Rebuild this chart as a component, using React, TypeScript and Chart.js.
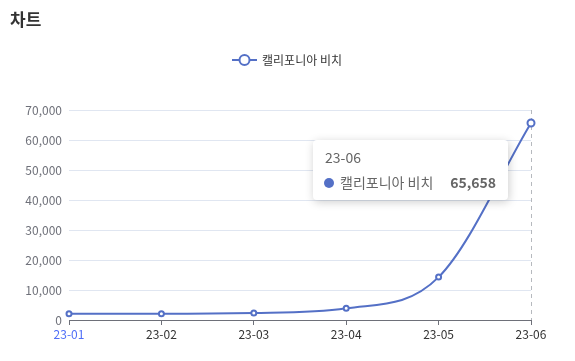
import React, { useEffect, useRef } from "react";
import { Chart, registerables } from "chart.js";

Chart.register(...registerables);

const chartTitle = "차트";
const seriesName = "캘리포니아 비치";
const categories = ["23-01", "23-02", "23-03", "23-04", "23-05", "23-06"];
const values = [2100, 2050, 2300, 3900, 14300, 65658];
const yMax = 70000;
const yStep = 10000;
const activeIndex = 5;

const LINE = "#5470c6";
const FONT = "'Noto Sans CJK KR', 'Noto Sans', sans-serif";

const overlay = {
  id: "overlay",
  beforeDatasetsDraw(chart: any) {
    const { ctx, chartArea } = chart;
    const meta = chart.getDatasetMeta(0);
    const pt = meta.data[activeIndex];
    ctx.save();
    ctx.strokeStyle = "#B6B9BE";
    ctx.lineWidth = 1;
    ctx.setLineDash([4, 4]);
    ctx.beginPath();
    ctx.moveTo(Math.round(pt.x) + 0.5, chartArea.top);
    ctx.lineTo(Math.round(pt.x) + 0.5, chartArea.bottom);
    ctx.stroke();
    ctx.restore();
  },
  afterDraw(chart: any) {
    const { ctx } = chart;
    ctx.save();
    // title
    ctx.fillStyle = "#333";
    ctx.font = `bold 17px ${FONT}`;
    ctx.textBaseline = "middle";
    ctx.textAlign = "left";
    ctx.fillText(chartTitle, 10, 20);

    // legend
    ctx.font = `12px ${FONT}`;
    const tw = ctx.measureText(seriesName).width;
    const total = 25 + 5 + tw;
    const lx = 287 - total / 2;
    const ly = 60;
    ctx.strokeStyle = LINE;
    ctx.lineWidth = 2;
    ctx.beginPath();
    ctx.moveTo(lx, ly);
    ctx.lineTo(lx + 25, ly);
    ctx.stroke();
    ctx.beginPath();
    ctx.arc(lx + 12.5, ly, 5, 0, Math.PI * 2);
    ctx.fillStyle = "#fff";
    ctx.fill();
    ctx.stroke();
    ctx.fillStyle = "#333";
    ctx.fillText(seriesName, lx + 30, ly);

    // tooltip
    const pt = chart.getDatasetMeta(0).data[activeIndex];
    const w = 195;
    const h = 60;
    const bx = pt.x - 23 - w;
    const by = pt.y + 17;
    ctx.shadowColor = "rgba(0,0,0,0.2)";
    ctx.shadowBlur = 10;
    ctx.shadowOffsetX = 1;
    ctx.shadowOffsetY = 2;
    ctx.fillStyle = "#fff";
    ctx.beginPath();
    ctx.roundRect(bx, by, w, h, 4);
    ctx.fill();
    ctx.shadowColor = "transparent";
    ctx.shadowBlur = 0;
    ctx.fillStyle = "#666";
    ctx.font = `14px ${FONT}`;
    ctx.textAlign = "left";
    ctx.fillText(categories[activeIndex], bx + 12, by + 18);
    ctx.beginPath();
    ctx.arc(bx + 16, by + 43, 5, 0, Math.PI * 2);
    ctx.fillStyle = LINE;
    ctx.fill();
    ctx.fillStyle = "#666";
    ctx.fillText(seriesName, bx + 27, by + 43);
    ctx.font = `bold 14px ${FONT}`;
    ctx.textAlign = "right";
    ctx.fillText(values[activeIndex].toLocaleString("en-US"), bx + w - 12, by + 43);
    ctx.restore();
  },
};

export default function App() {
  const ref = useRef<HTMLCanvasElement>(null);
  useEffect(() => {
    const chart = new Chart(ref.current!, {
      type: "line",
      data: {
        labels: categories,
        datasets: [
          {
            label: seriesName,
            data: values,
            borderColor: LINE,
            backgroundColor: "#fff",
            borderWidth: 2,
            cubicInterpolationMode: "monotone",
            pointRadius: values.map((_, i) => (i === activeIndex ? 3.5 : 2.5)),
            pointBorderWidth: 2,
            pointBackgroundColor: "#fff",
            pointBorderColor: LINE,
          },
        ],
      },
      options: {
        animation: false,
        responsive: false,
        events: [],
        layout: { padding: { top: 110, right: 44, left: 0, bottom: 0 } },
        plugins: { legend: { display: false }, tooltip: { enabled: false }, title: { display: false } },
        scales: {
          x: {
            offset: false,
            grid: { display: true, drawOnChartArea: false, drawTicks: true, tickLength: 5, color: "#6E7079" },
            border: { display: true, color: "#6E7079" },
            ticks: {
              font: { family: FONT, size: 12 },
              color: (c: any) => (c.index === 0 ? "#4f6ef7" : "#333"),
              padding: 2,
              maxRotation: 0,
              autoSkip: false,
            },
            afterFit: (s: any) => {
              s.height = 41;
            },
          },
          y: {
            min: 0,
            max: yMax,
            grid: { color: "#E0E6F1", drawTicks: false },
            border: { display: false },
            ticks: {
              stepSize: yStep,
              font: { family: FONT, size: 12 },
              color: "#6E7079",
              padding: 7,
              callback: (v: any) => Number(v).toLocaleString("en-US"),
            },
            afterFit: (s: any) => {
              s.width = 69;
            },
          },
        },
      },
      plugins: [overlay],
    });
    return () => chart.destroy();
  }, []);
  return (
    <div style={{ position: "fixed", left: 0, top: 0, width: 575, height: 361, background: "#fff" }}>
      <canvas ref={ref} width={575} height={361} style={{ width: 575, height: 361 }} />
    </div>
  );
}
